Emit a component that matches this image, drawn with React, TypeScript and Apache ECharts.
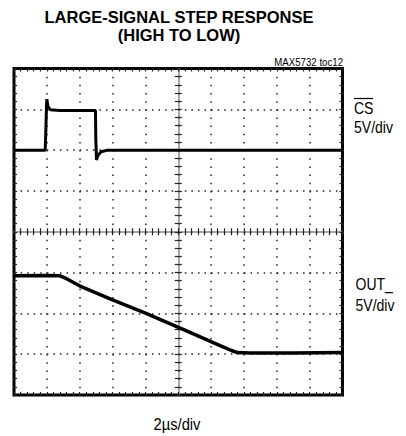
import React, { useEffect, useRef } from "react";
import * as echarts from "echarts";

// Time axis in divisions (2 µs/div), 10 divisions
const xDivisions = 10;
// Vertical axis in divisions, 8 divisions
const yDivisions = 8;

// CS trace (divisions)
const csX = [0, 0.95, 0.97, 0.99, 1.0, 1.03, 1.1, 1.4, 2.0, 2.48, 2.49, 2.51, 2.55, 2.65, 2.85, 4, 10];
const csY = [6.0, 6.0, 6.5, 7.1, 7.25, 7.08, 6.99, 6.97, 6.97, 6.97, 6.3, 5.76, 5.86, 5.96, 6.0, 6.0, 6.0];

// OUT_ trace (divisions)
const outX = [0, 1.0, 1.4, 1.6, 2.01, 3.0, 4.02, 5.2, 6.36, 6.62, 6.8, 7.2, 8.5, 10];
const outY = [2.92, 2.93, 2.92, 2.85, 2.67, 2.33, 2.0, 1.59, 1.18, 1.09, 1.04, 1.03, 1.03, 1.04];

const titleLines = ["LARGE-SIGNAL STEP RESPONSE", "(HIGH TO LOW)"];
const tocLabel = "MAX5732 toc12";
const csLabel = ["CS", "5V/div"];
const outLabel = ["OUT_", "5V/div"];
const timeLabel = "2\u00b5s/div";

const SANS = "'Liberation Sans', Arial, Helvetica, sans-serif";

export default function App() {
  const ref = useRef<HTMLDivElement>(null);
  useEffect(() => {
    document.body.style.margin = "0";
    if (!ref.current) return;
    const chart = echarts.init(ref.current, null, { renderer: "svg" });

    const gridL = 14, gridT = 68.5, gridW = 328.5, gridH = 326.5;

    const frameX = (position: string, inside: boolean) => ({
      type: "value",
      min: 0,
      max: xDivisions,
      interval: 1,
      position,
      axisLine: { show: false, onZero: false },
      axisTick: { show: true, inside, length: 3, lineStyle: { color: "#222", width: 1.2 } },
      minorTick: { show: true, splitNumber: 5, length: 3, lineStyle: { color: "#222", width: 1.2 } },
      axisLabel: { show: false },
      splitLine: { show: false },
    });
    const frameY = (position: string, inside: boolean) => ({
      type: "value",
      min: 0,
      max: yDivisions,
      interval: 1,
      position,
      axisLine: { show: false, onZero: false },
      axisTick: { show: true, inside, length: 3, lineStyle: { color: "#222", width: 1.2 } },
      minorTick: { show: true, splitNumber: 5, length: 3, lineStyle: { color: "#222", width: 1.2 } },
      axisLabel: { show: false },
      splitLine: { show: false },
    });

    const xMain: any = frameX("bottom", true);
    xMain.splitLine = {
      show: true,
      lineStyle: { color: "#222", width: 1.5, type: [1.5, 6.66] },
    };
    const yMain: any = frameY("left", true);
    yMain.splitLine = {
      show: true,
      lineStyle: { color: "#222", width: 1.5, type: [1.5, 5.07] },
    };

    const centerX = (inside: boolean, showLine: boolean) => {
      const a: any = frameX("bottom", inside);
      a.offset = -gridH / 2;
      a.axisLine = { show: showLine, onZero: false, lineStyle: { color: "#888", width: 1.5 } };
      a.axisTick.length = 3.5;
      a.minorTick.length = 3.5;
      return a;
    };
    const centerY = (inside: boolean, showLine: boolean) => {
      const a: any = frameY("left", inside);
      a.offset = -gridW / 2;
      a.axisLine = { show: showLine, onZero: false, lineStyle: { color: "#888", width: 1.5 } };
      a.axisTick.length = 3.5;
      a.minorTick.length = 3.5;
      return a;
    };

    const csData = csX.map((x, i) => [x, csY[i]]);
    const outData = outX.map((x, i) => [x, outY[i]]);

    const label = (text: string, x: number, y: number, size: number, sx: number, align = "left") => ({
      type: "text",
      x,
      y,
      scaleX: sx,
      style: { text, font: `${size}px ${SANS}`, fill: "#000", align, verticalAlign: "middle" },
    });

    const csTextX = 354;
    const option: any = {
      animation: false,
      backgroundColor: "#fff",
      grid: {
        left: gridL,
        top: gridT,
        width: gridW,
        height: gridH,
        show: true,
        borderColor: "#000",
        borderWidth: 3,
        backgroundColor: "transparent",
      },
      xAxis: [xMain, frameX("top", true), centerX(true, true), centerX(false, false)],
      yAxis: [yMain, frameY("right", true), centerY(true, true), centerY(false, false)],
      series: [
        {
          type: "line",
          data: csData,
          xAxisIndex: 0,
          yAxisIndex: 0,
          showSymbol: false,
          symbol: "none",
          lineStyle: { color: "#000", width: 3 },
          z: 5,
        },
        {
          type: "line",
          data: outData,
          xAxisIndex: 0,
          yAxisIndex: 0,
          showSymbol: false,
          symbol: "none",
          lineStyle: { color: "#000", width: 3.5 },
          z: 5,
        },
      ],
      graphic: [
        {
          type: "text",
          x: 179,
          y: 17,
          style: {
            text: titleLines[0],
            font: `bold 16.5px ${SANS}`,
            fill: "#000",
            align: "center",
            verticalAlign: "middle",
          },
        },
        {
          type: "text",
          x: 179,
          y: 35,
          style: {
            text: titleLines[1],
            font: `bold 16.5px ${SANS}`,
            fill: "#000",
            align: "center",
            verticalAlign: "middle",
          },
        },
        label(tocLabel, 343, 62, 10.5, 0.92, "right"),
        label(csLabel[0], csTextX, 108, 16.5, 0.85),
        {
          type: "line",
          shape: { x1: csTextX, y1: 98.5, x2: csTextX + 19, y2: 98.5 },
          style: { stroke: "#000", lineWidth: 1.2 },
        },
        label(csLabel[1], csTextX, 127, 16.5, 0.85),
        label(outLabel[0], 355.5, 284, 16.5, 0.85),
        label(outLabel[1], 355.5, 305, 16.5, 0.85),
        label(timeLabel, 177, 424, 16, 0.92, "center"),
      ],
    };
    chart.setOption(option);
    return () => chart.dispose();
  }, []);
  return <div ref={ref} style={{ width: 406, height: 436 }} />;
}
